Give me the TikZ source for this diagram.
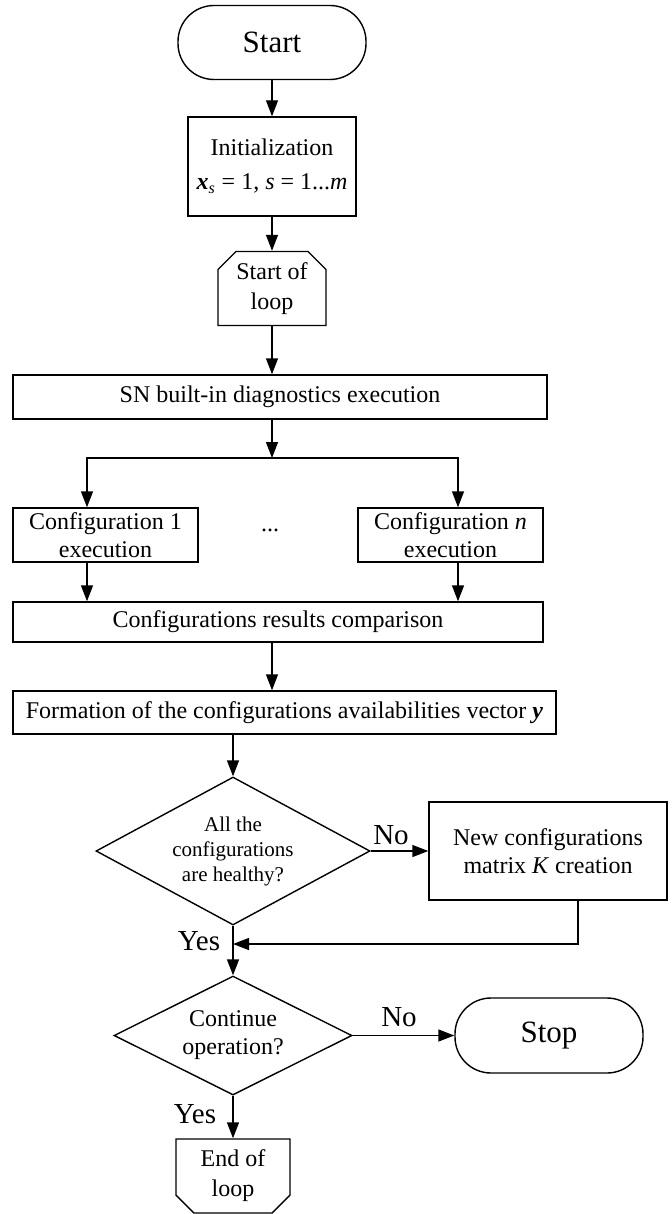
\documentclass[tikz,border=0pt]{standalone}
\usepackage{fontspec}
\setmainfont{Liberation Serif}
\usetikzlibrary{arrows.meta,shapes.geometric,shapes.misc}

\begin{document}
\begin{tikzpicture}[x=0.5pt,y=-0.5pt,line width=0.7pt,>={Triangle[length=8pt,width=6pt]},
	every node/.style={font=\fontsize{12}{14}\selectfont,align=center,inner sep=1pt},
	term/.style={draw,rectangle,rounded corners=18pt,font=\fontsize{15.5}{18}\selectfont},
	block/.style={draw,rectangle},
	cond/.style={draw,diamond,inner sep=0pt},
	loopbox/.style={draw,chamfered rectangle,chamfered rectangle xsep=4.5pt,chamfered rectangle ysep=4.5pt,font=\fontsize{12}{15}\selectfont},
	answer/.style={font=\fontsize{14.5}{16}\selectfont}]
	\useasboundingbox (0,0) rectangle (672,1214);
	
	\node[term,minimum width=94pt,minimum height=37pt] (start) at (272,42.5) {Start};
	\node[block,minimum width=84pt,minimum height=49.5pt] (init) at (272,166.5) {Initialization\\[3pt]\textbf{\textit{x}}\textsubscript{\textit{s}} = 1, \textit{s} = 1...\textit{m}};
	\node[loopbox,chamfered rectangle corners={north west,north east},minimum width=54pt,minimum height=36.5pt] (loopstart) at (272,288.5) {Start of\\loop};
	\node[block,minimum width=267pt,minimum height=22pt] (diag) at (280,397) {SN built-in diagnostics execution};
	\coordinate (split) at (272,458);
	\coordinate (lbranch) at (87,458);
	\coordinate (rbranch) at (458,458);
	\node[block,minimum width=92.5pt,minimum height=27pt] (conf1) at (105.5,535) {Configuration 1\\execution};
	\node (dots) at (270,530) {...};
	\node[block,minimum width=92.5pt,minimum height=27pt] (confn) at (450.5,535) {Configuration \textit{n}\\execution};
	\node[block,minimum width=265pt,minimum height=20pt] (compare) at (278,622) {Configurations results comparison};
	\node[block,minimum width=271.5pt,minimum height=21.5pt] (form) at (284.5,712.5) {Formation of the configurations availabilities vector \textbf{\textit{y}}};
	\node[cond,aspect=1.85,minimum width=137pt,minimum height=74pt,font=\fontsize{10.5}{12.5}\selectfont] (healthy) at (233,851) {All the\\configurations\\are healthy?};
	\node[block,minimum width=119pt,minimum height=49pt] (newk) at (548,851) {New configurations\\matrix \textit{K} creation};
	\coordinate (merge) at (233,944);
	\coordinate (back) at (578,944);
	\node[cond,aspect=2,minimum width=119pt,minimum height=59.5pt] (cont) at (233,1035.5) {Continue\\operation?};
	\node[term,minimum width=94pt,minimum height=37.5pt] (stop) at (549,1035.5) {Stop};
	\node[loopbox,chamfered rectangle corners={south west,south east},minimum width=57pt,minimum height=37pt] (loopend) at (233,1176) {End of\\loop};
	
	\node[answer] (no1) at (391,835) {No};
	\node[answer] (yes1) at (199,941) {Yes};
	\node[answer] (no2) at (399,1017) {No};
	\node[answer] (yes2) at (195,1114) {Yes};
	
	\path [->] (start) edge (init);
	\path [->] (init) edge (loopstart);
	\draw [->] (loopstart.south) -- (loopstart.south |- diag.north);
	\draw [->] (split |- diag.south) -- (split);
	\draw [->] (split) -- (lbranch) -- (lbranch |- conf1.north);
	\draw [->] (split) -- (rbranch) -- (rbranch |- confn.north);
	\draw [->] (lbranch |- conf1.south) -- (lbranch |- compare.north);
	\draw [->] (rbranch |- confn.south) -- (rbranch |- compare.north);
	\draw [->] (split |- compare.south) -- (split |- form.north);
	\draw [->] (healthy.north |- form.south) -- (healthy.north);
	\draw [->] (healthy.east) -- (newk.west);
	\draw [->] (back |- newk.south) -- (back) -- (merge);
	\draw (healthy.south) -- (merge);
	\draw [->] (merge) -- (cont.north);
	\draw [->] (cont.east) -- (stop.west);
	\draw [->] (cont.south) -- (loopend.north);
\end{tikzpicture}
\end{document}
